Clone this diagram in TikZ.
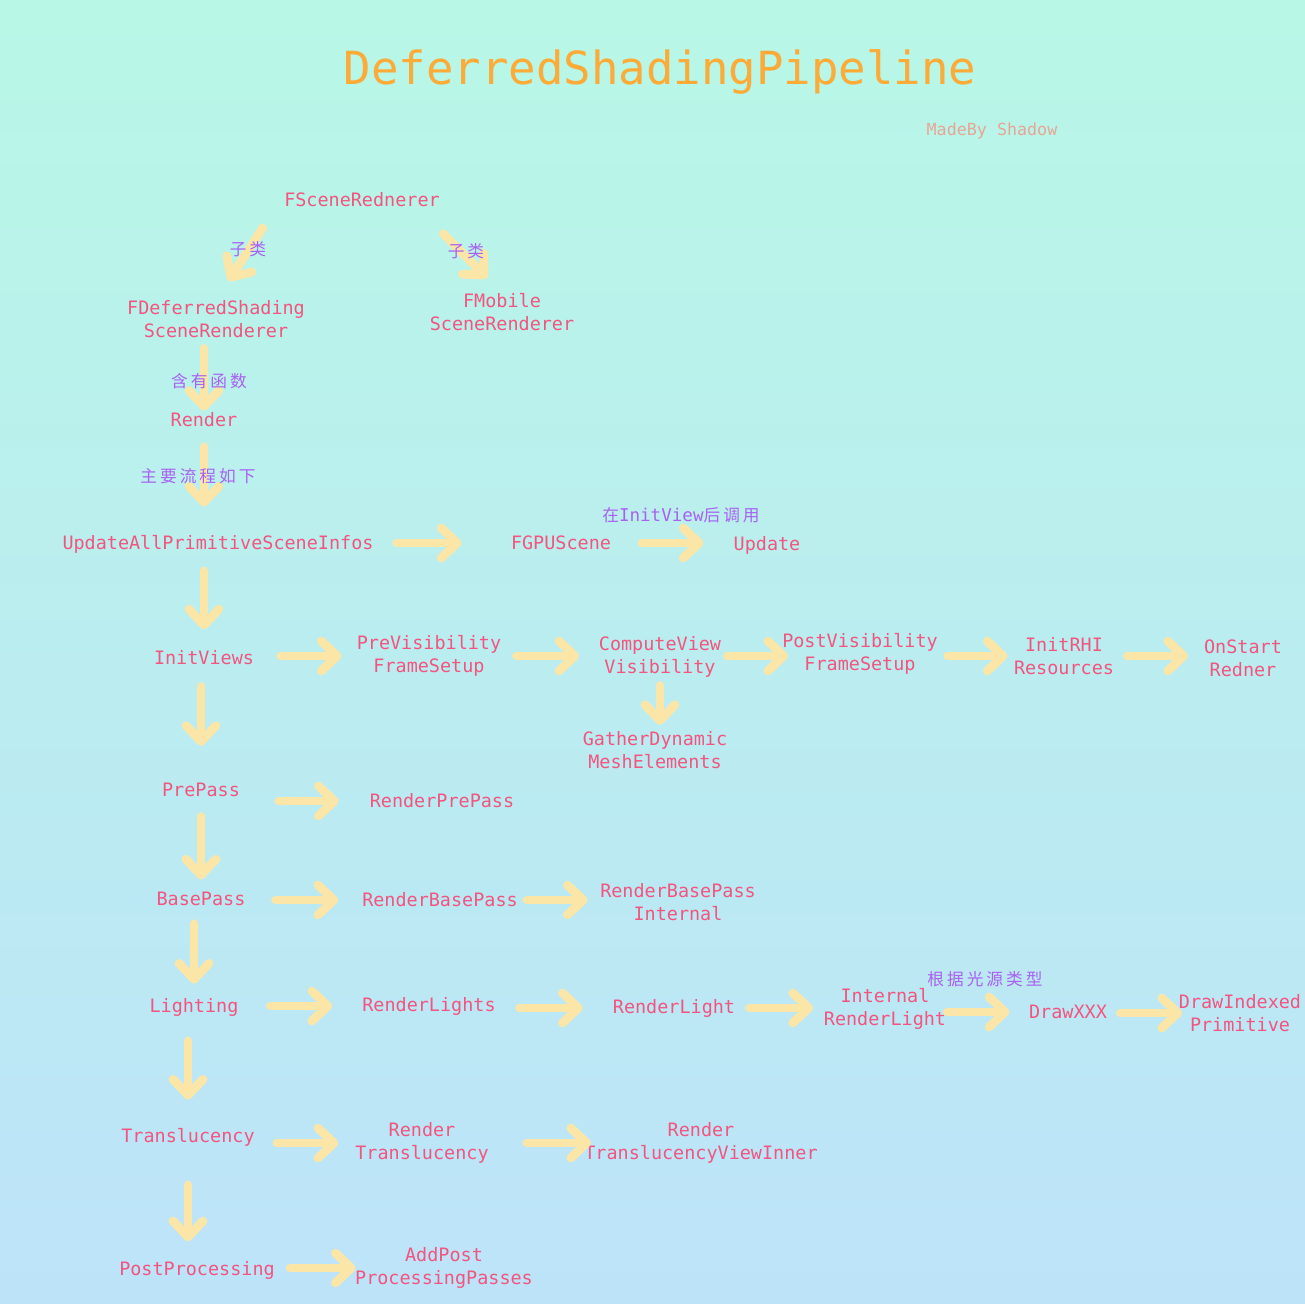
\documentclass[tikz,border=0pt]{standalone}
\usepackage{fontspec}
\setmainfont{DejaVu Sans Mono}
\newfontfamily\cjkfont[LetterSpace=18]{Noto Sans CJK SC}
\usepackage{tikz}
\usetikzlibrary{arrows.meta}

\definecolor{bgtop}{HTML}{B8F7E6}
\definecolor{bgbot}{HTML}{BDE3F9}
\definecolor{txtpink}{HTML}{F2557F}
\definecolor{lblpurple}{HTML}{A862F2}
\definecolor{arrowyellow}{HTML}{FBE6A8}
\definecolor{titleorange}{HTML}{FCAB38}
\definecolor{signsalmon}{HTML}{E8A596}

\begin{document}
\begin{tikzpicture}[x=0.02cm,y=-0.02cm,
  every node/.style={text=txtpink,font=\fontsize{10.5}{13}\selectfont,inner sep=0pt,align=center},
  lbl/.style={text=lblpurple,font=\cjkfont\fontsize{9.5}{11}\selectfont},
  arr/.style 2 args={draw=arrowyellow,line width=5pt,line cap=round,
    -{Straight Barb[length=9pt,width=17pt,round]},shorten <=#1,shorten >=#2}]
\useasboundingbox (0,0) rectangle (1305,1304);
\shade[top color=bgtop,bottom color=bgbot] (0,0) rectangle (1305,1304);

\node[text=titleorange,font=\fontsize{26}{30}\selectfont] (title) at (660,72) {DeferredShadingPipeline};
\node[text=signsalmon,font=\fontsize{9.5}{11}\selectfont] (madeby) at (992,131) {MadeBy Shadow};

% class tree
\node (fscene) at (362,200) {FSceneRednerer};
\node (fdeferred) at (216,319) {FDeferredShading\\SceneRenderer};
\node (fmobile) at (502,312) {FMobile\\SceneRenderer};
\node (render) at (204,420) {Render};

% main flow
\node (updateall) at (218,544) {UpdateAllPrimitiveSceneInfos};
\node (fgpu) at (561,543) {FGPUScene};
\node (update) at (767,545) {Update};
\node (initviews) at (204,658) {InitViews};
\node (previs) at (429,656) {PreVisibility\\FrameSetup};
\node (computeview) at (660,657) {ComputeView\\Visibility};
\node (postvis) at (860,654) {PostVisibility\\FrameSetup};
\node (initrhi) at (1064,656) {InitRHI\\Resources};
\node (onstart) at (1243,658) {OnStart\\Redner};
\node (gather) at (655,750) {GatherDynamic\\MeshElements};
\node (prepass) at (201,790) {PrePass};
\node (renderprepass) at (442,801) {RenderPrePass};
\node (basepass) at (201,899) {BasePass};
\node (rbp) at (440,900) {RenderBasePass};
\node (rbpinternal) at (678,902) {RenderBasePass\\Internal};
\node (lighting) at (194,1007) {Lighting};
\node (renderlights) at (429,1006) {RenderLights};
\node (renderlight) at (674,1008) {RenderLight};
\node (internal) at (885,1009) {Internal\\RenderLight};
\node (drawxxx) at (1068,1012) {DrawXXX};
\node (drawindexed) at (1240,1013) {DrawIndexed\\Primitive};
\node (translucency) at (188,1137) {Translucency};
\node (rendertransl) at (422,1143) {Render\\Translucency};
\node (viewinner) at (701,1143) {Render\\TranslucencyViewInner};
\node (postproc) at (197,1270) {PostProcessing};
\node (addpost) at (444,1268) {AddPost\\ProcessingPasses};

% arrows
\draw[arr={14pt}{13pt}] ([xshift=-4.5pt]fscene.south west) -- (fdeferred.north);
\draw[arr={21pt}{12pt}] ([xshift=-13pt]fscene.south east) -- (fmobile.north);
\draw[arr={6pt}{1pt}] (fdeferred.south -| render) -- (render.north);
\draw[arr={11pt}{16pt}] (render.south) -- (render.south |- updateall.north);
\draw[arr={10pt}{12pt}] (updateall.south -| initviews) -- (initviews.north);
\draw[arr={12pt}{21pt}] (initviews.south -| prepass) -- (prepass.north);
\draw[arr={11pt}{7pt}] (prepass.south -| basepass) -- (basepass.north);
\draw[arr={10pt}{8pt}] (basepass.south -| lighting) -- (lighting.north);
\draw[arr={14pt}{16pt}] (lighting.south -| translucency) -- (translucency.north);
\draw[arr={22pt}{11pt}] (translucency.south) -- (translucency.south |- postproc.north);
\draw[arr={4.5pt}{3.5pt}] (computeview.south) -- (computeview.south |- gather.north);

\draw[arr={13pt}{28pt}] (updateall.east |- fgpu) -- (fgpu.west);
\draw[arr={17.5pt}{17pt}] (fgpu.east) -- (fgpu.east -| update.west);
\draw[arr={15pt}{8.5pt}] (initviews.east |- previs) -- (previs.west);
\draw[arr={8.5pt}{11pt}] (previs.east) -- (previs.east -| computeview.west);
\draw[arr={3.5pt}{-3.5pt}] (computeview.east |- previs) -- (previs -| postvis.west);
\draw[arr={5.5pt}{3.5pt}] (postvis.east |- initrhi) -- (initrhi.west);
\draw[arr={7.5pt}{9pt}] (initrhi.east) -- (initrhi.east -| onstart.west);
\draw[arr={22pt}{17.5pt}] (prepass.east |- renderprepass) -- (renderprepass.west);
\draw[arr={17pt}{13.5pt}] (basepass.east |- rbp) -- (rbp.west);
\draw[arr={5pt}{7pt}] (rbp.east) -- (rbp.east -| rbpinternal.west);
\draw[arr={18pt}{17pt}] (lighting.east |- renderlights) -- (renderlights.west);
\draw[arr={13.5pt}{17pt}] (renderlights.east |- renderlight) -- (renderlight.west);
\draw[arr={8pt}{6pt}] (renderlight.east) -- (renderlight.east -| internal.west);
\draw[arr={0.5pt}{11pt}] (internal.east |- drawxxx) -- (drawxxx.west);
\draw[arr={7.5pt}{-2pt}] (drawxxx.east |- drawindexed) -- (drawindexed.west);
\draw[arr={12.5pt}{9.5pt}] (translucency.east |- rendertransl) -- (rendertransl.west);
\draw[arr={21.5pt}{-4pt}] (rendertransl.east |- viewinner) -- (viewinner.west);
\draw[arr={8.5pt}{-0.5pt}] (postproc.east |- addpost) -- (addpost.west);

% labels on arrows
\node[lbl] (sub1) at (248,249) {子\,类};
\node[lbl] (sub2) at (466,251) {子\,类};
\node[lbl] (hasfunc) at (209,381) {含有函数};
\node[lbl] (mainflow) at (198,476) {主要流程如下};
\node[lbl] (afterinit) at (681,515) {在{\fontspec{DejaVu Sans Mono}\fontsize{10}{12}\selectfont InitView}后调用};
\node[lbl] (bylight) at (985,979) {根据光源类型};
\end{tikzpicture}
\end{document}
